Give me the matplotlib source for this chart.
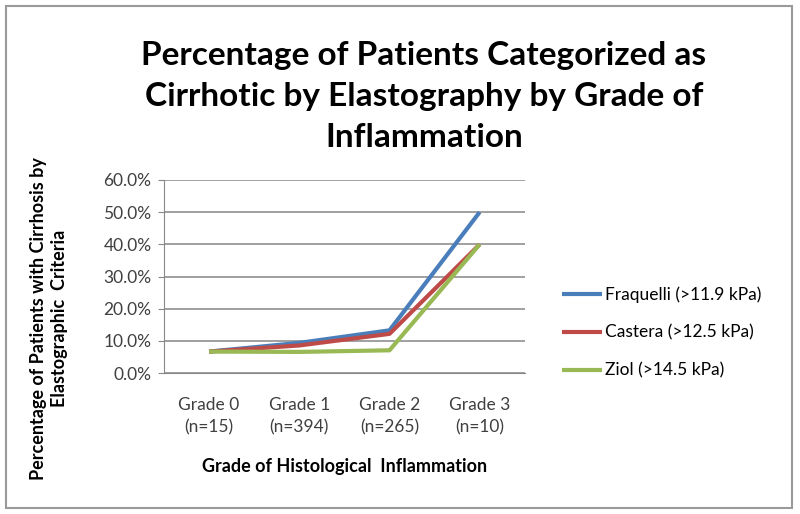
import numpy as np
import matplotlib.pyplot as plt
from matplotlib.patches import Rectangle
from matplotlib.ticker import PercentFormatter

plt.rcParams["font.family"] = ["Lato", "DejaVu Sans"]

grades = ["Grade 0\n(n=15)", "Grade 1\n(n=394)", "Grade 2\n(n=265)", "Grade 3\n(n=10)"]
fraquelli = [6.7, 9.4, 13.3, 50.0]
castera = [6.7, 8.6, 12.2, 40.0]
ziol = [6.7, 6.6, 7.1, 40.0]

series = [
    ("Fraquelli (>11.9 kPa)", fraquelli, "#4a7ebb"),
    ("Castera (>12.5 kPa)", castera, "#be4b48"),
    ("Ziol (>14.5 kPa)", ziol, "#98b954"),
]

fig = plt.figure(figsize=(8.0, 5.14), dpi=100)
ax = fig.add_axes([0.205, 0.274, 0.451, 0.376])

x = np.arange(len(grades))
for name, vals, color in series:
    ax.plot(x, vals, color=color, lw=3, label=name, solid_capstyle="butt")

ax.set_xlim(-0.5, len(grades) - 0.5)
ax.set_ylim(0, 60)
ax.set_yticks(np.arange(0, 61, 10))
ax.yaxis.set_major_formatter(PercentFormatter(decimals=1))
ax.set_xticks(x)
ax.set_xticklabels(grades, fontsize=12.5, color="#404040", linespacing=1.5)
ax.tick_params(axis="y", labelsize=12.5, labelcolor="#404040", length=4, color="#888888", pad=5)
ax.tick_params(axis="x", length=0, pad=17)
ax.grid(axis="y", color="#999999", lw=1.3)
ax.set_axisbelow(True)
for s in ["top", "right"]:
    ax.spines[s].set_visible(False)
ax.spines["left"].set_color("#888888")
ax.spines["bottom"].set_color("#888888")

ax.set_xlabel("Grade of Histological  Inflammation", fontsize=13, fontweight="bold", labelpad=16)
fig.text(0.061, 0.38, "Percentage of Patients with Cirrhosis by\nElastographic  Criteria",
         rotation=90, ha="center", va="center", fontsize=13, fontweight="bold", linespacing=1.25)

fig.text(0.53, 0.812, "Percentage of Patients Categorized as\nCirrhotic by Elastography by Grade of\nInflammation",
         ha="center", va="center", fontsize=24, fontweight="bold", linespacing=1.5)

leg = ax.legend(loc="center left", bbox_to_anchor=(1.06, 0.21), frameon=False, fontsize=12.5,
                handlelength=2.3, handletextpad=0.2, labelspacing=1.25)

fig.patches.append(Rectangle((0.008, 0.012), 0.982, 0.976, transform=fig.transFigure,
                             fill=False, edgecolor="#9a9a9a", lw=1.5))

fig.savefig("out.png", dpi=100)
